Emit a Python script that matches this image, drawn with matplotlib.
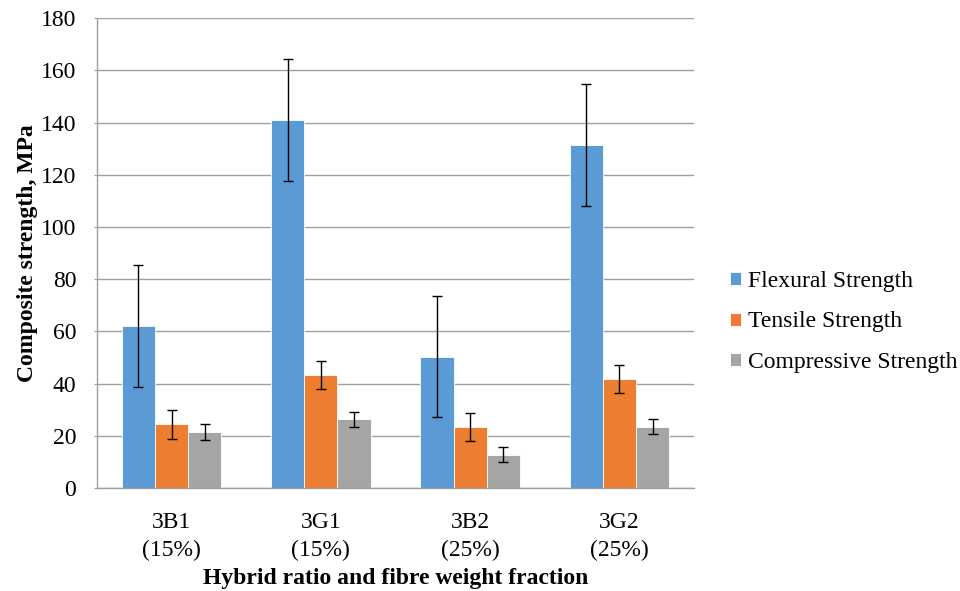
import matplotlib
matplotlib.use("Agg")
import matplotlib.pyplot as plt
import numpy as np

categories = ["3B1\n(15%)", "3G1\n(15%)", "3B2\n(25%)", "3G2\n(25%)"]
series_names = ["Flexural Strength", "Tensile Strength", "Compressive Strength"]
flexural = [62.1, 141.0, 50.4, 131.4]
flexural_err = [23.3, 23.3, 23.3, 23.3]
tensile = [24.4, 43.2, 23.5, 41.9]
tensile_err = [5.4, 5.4, 5.4, 5.4]
compressive = [21.4, 26.3, 12.8, 23.6]
compressive_err = [3.0, 2.9, 2.9, 2.9]
colors = ["#5B9BD5", "#ED7D31", "#A5A5A5"]

plt.rcParams['font.family'] = ['Liberation Serif', 'DejaVu Serif']

fig = plt.figure(figsize=(9.6, 5.91), dpi=100)
ax = fig.add_axes([0.101, 0.174, 0.622, 0.7955])

x = np.arange(len(categories))
w = 0.222
for i, (vals, errs) in enumerate([(flexural, flexural_err), (tensile, tensile_err), (compressive, compressive_err)]):
    ax.bar(x + (i - 1) * w, vals, width=w, color=colors[i], edgecolor="white", linewidth=0.6,
           label=series_names[i], zorder=2,
           yerr=errs, error_kw=dict(ecolor="black", elinewidth=1.0, capsize=3.6, capthick=1.0, zorder=3))

ax.set_xlim(-0.5, 3.5)
ax.set_ylim(0, 180)
ax.set_yticks(range(0, 181, 20))
ax.set_xticks(x)
ax.set_xticklabels(categories, linespacing=1.45)
ax.yaxis.grid(True, color="#A0A0A0", linewidth=1.0, zorder=0)
ax.set_axisbelow(True)
for s in ["top", "right"]:
    ax.spines[s].set_visible(False)
for s in ["left", "bottom"]:
    ax.spines[s].set_color("#A0A0A0")
    ax.spines[s].set_linewidth(1.0)
ax.tick_params(axis="both", labelsize=17, colors="black")
ax.tick_params(axis="y", length=2, color="#A0A0A0", pad=13)
ax.tick_params(axis="x", length=0, pad=17)

ax.set_ylabel("Composite strength, MPa", fontsize=17, fontweight="bold", labelpad=2)
ax.set_xlabel("Hybrid ratio and fibre weight fraction", fontsize=17, fontweight="bold", labelpad=5)

leg = ax.legend(loc="center left", bbox_to_anchor=(730 / 960, 1 - 322 / 591),
                bbox_transform=fig.transFigure, frameon=False, fontsize=17,
                handlelength=0.47, handleheight=0.47, handletextpad=0.3, labelspacing=0.81,
                borderaxespad=0, borderpad=0)

fig.savefig("out.png", dpi=100)
